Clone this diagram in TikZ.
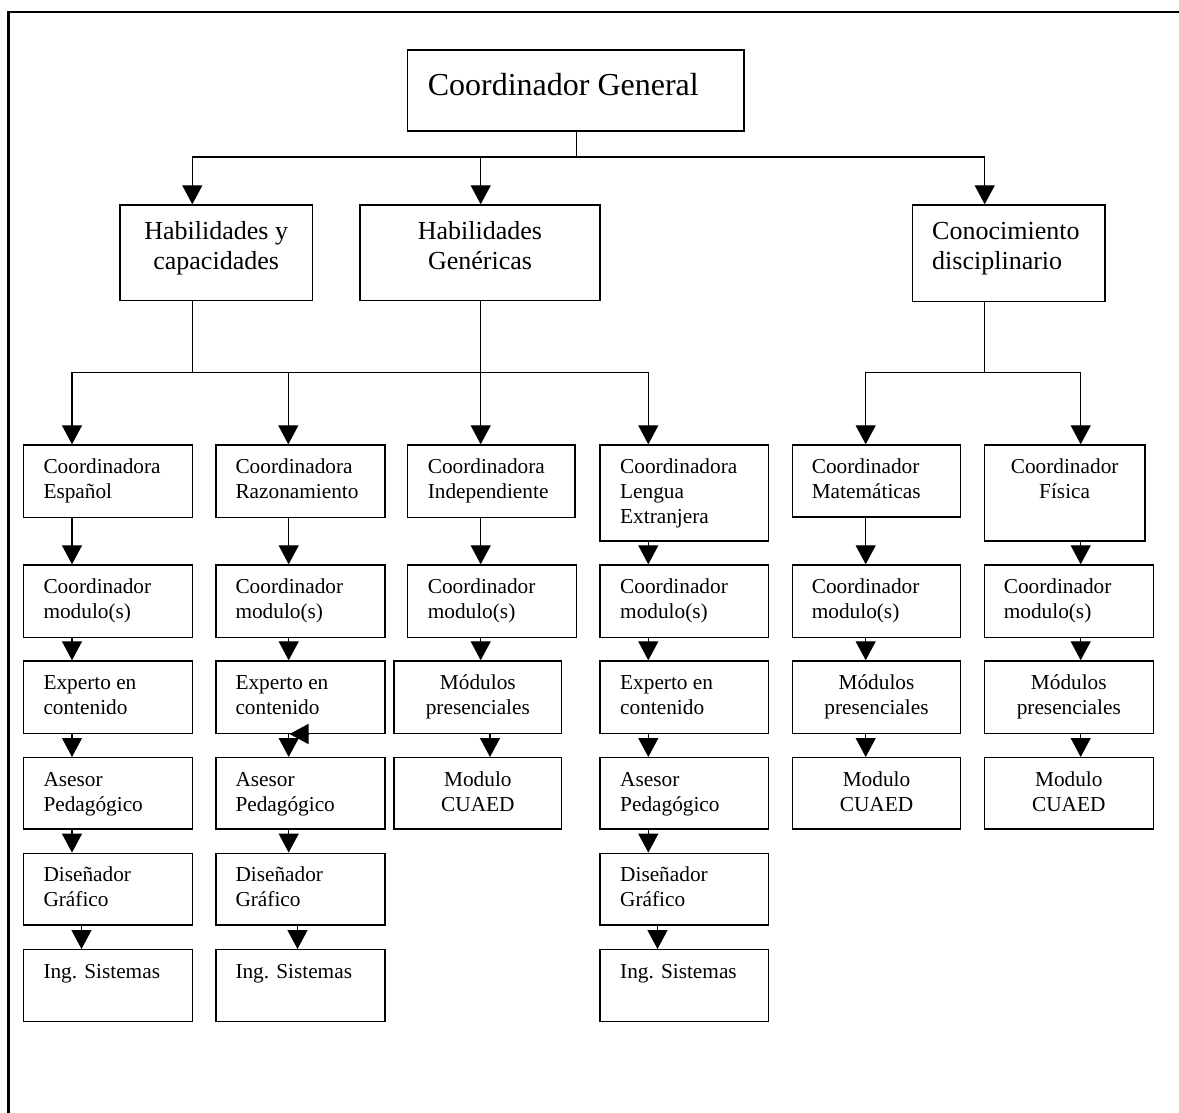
\documentclass[tikz,border=0pt]{standalone}
\usepackage{fontspec}
\setmainfont{Liberation Serif}
\usetikzlibrary{arrows.meta,calc}

\tikzset{
  orgbox/.style={draw, rectangle, line width=1.4pt, inner sep=0pt},
  lbl/.style={inner sep=0pt, font=\fontsize{21.3}{24.7}\selectfont},
  midlbl/.style={inner sep=0pt, font=\fontsize{26}{30}\selectfont},
  toplbl/.style={inner sep=0pt, font=\fontsize{32}{37}\selectfont},
  wire/.style={line width=1.3pt},
  arr/.style={line width=1.3pt, -{Triangle[length=19pt,width=20pt]}},
  frame/.style={line width=2.2pt},
}

% box: name, left, top, right, bottom
\newcommand\orgrect[5]{%
  \node[orgbox, minimum width={#4-#2}, minimum height={#5-#3}] (#1)
    at ({(#2+#4)/2},{(#3+#5)/2}) {};}
% left-aligned text: name, box, x inset, first baseline, lines, style
\newcommand\ltext[6]{%
  \node[#6, anchor=base west] (#1) at ($(#2.north west)+(#3,#4)$)
    {\begin{tabular}[t]{@{}l@{}}#5\end{tabular}};}
% centred text: name, box, first baseline, lines, style
\newcommand\ctext[5]{%
  \node[#5, anchor=base] (#1) at ($(#2.north)+(0,#3)$)
    {\begin{tabular}[t]{@{}c@{}}#4\end{tabular}};}
% vertical arrow between two stacked boxes at a given x
\newcommand\chain[3]{\draw[arr] (#3,0 |- #1.south) -- (#3,0 |- #2.north);}

\begin{document}
\begin{tikzpicture}[x=1pt,y=-1pt]
\useasboundingbox (0,0) rectangle (1179,1113);

% page frame (left and top edges)
\draw[frame] (8.5,1113) -- (8.5,12) -- (1179,12);

% ---- top level ----
\orgrect{cg}{407.7}{50}{744}{131}
\ltext{cgt}{cg}{20.6}{46.7}{Coordinador General}{toplbl}

% ---- second level ----
\orgrect{hc}{120}{205}{312.3}{300.7}
\ctext{hct}{hc}{35.7}{Habilidades y\\capacidades}{midlbl}
\orgrect{hg}{360}{205}{600}{300.7}
\ctext{hgt}{hg}{35.3}{Habilidades\\Genéricas}{midlbl}
\orgrect{cd}{912.3}{205}{1105}{301.3}
\ltext{cdt}{cd}{20.4}{35.3}{Conocimiento\\disciplinario}{midlbl}

% ---- column A: Español ----
\orgrect{a1}{23.3}{445}{192.7}{517.7}
\orgrect{a2}{23.3}{565}{192.7}{637.7}
\orgrect{a3}{23.3}{661}{192.7}{733.3}
\orgrect{a4}{23.3}{757.7}{192.7}{829}
\orgrect{a5}{23.3}{853.3}{192.7}{925}
\orgrect{a6}{23.3}{949.7}{192.7}{1021.7}
\ltext{a1t}{a1}{20.7}{29.3}{Coordinadora\\Español}{lbl}
\ltext{a2t}{a2}{20.7}{29.3}{Coordinador\\modulo(s)}{lbl}
\ltext{a3t}{a3}{20.7}{29.3}{Experto en\\contenido}{lbl}
\ltext{a4t}{a4}{20.7}{29.3}{Asesor\\Pedagógico}{lbl}
\ltext{a5t}{a5}{20.7}{29.3}{Diseñador\\Gráfico}{lbl}
\ltext{a6t}{a6}{20.7}{29.3}{Ing. Sistemas}{lbl}

% ---- column B: Razonamiento ----
\orgrect{b1}{216}{445}{385}{517.7}
\orgrect{b2}{216}{565}{385}{637.7}
\orgrect{b3}{216}{661}{385}{733.3}
\orgrect{b4}{216}{757.7}{385}{829}
\orgrect{b5}{216}{853.3}{385}{925}
\orgrect{b6}{216}{949.7}{385}{1021.7}
\ltext{b1t}{b1}{20}{29.3}{Coordinadora\\Razonamiento}{lbl}
\ltext{b2t}{b2}{20}{29.3}{Coordinador\\modulo(s)}{lbl}
\ltext{b3t}{b3}{20}{29.3}{Experto en\\contenido}{lbl}
\ltext{b4t}{b4}{20}{29.3}{Asesor\\Pedagógico}{lbl}
\ltext{b5t}{b5}{20}{29.3}{Diseñador\\Gráfico}{lbl}
\ltext{b6t}{b6}{20}{29.3}{Ing. Sistemas}{lbl}

% ---- column C: Independiente ----
\orgrect{c1}{407.7}{445}{575}{517.7}
\orgrect{c2}{407.7}{565}{576.7}{637.7}
\orgrect{c3}{394}{661}{561.7}{733.3}
\orgrect{c4}{394}{757.7}{561.7}{829}
\ltext{c1t}{c1}{20.6}{29.3}{Coordinadora\\Independiente}{lbl}
\ltext{c2t}{c2}{20.6}{29.3}{Coordinador\\modulo(s)}{lbl}
\ctext{c3t}{c3}{29.3}{Módulos\\presenciales}{lbl}
\ctext{c4t}{c4}{29.3}{Modulo\\CUAED}{lbl}

% ---- column D: Lengua Extranjera ----
\orgrect{d1}{600}{445}{768.5}{541}
\orgrect{d2}{600}{565}{768.5}{637.7}
\orgrect{d3}{600}{661}{768.5}{733.3}
\orgrect{d4}{600}{757.7}{768.5}{829}
\orgrect{d5}{600}{853.3}{768.5}{925}
\orgrect{d6}{600}{949.7}{768.5}{1021.7}
\ltext{d1t}{d1}{20.7}{29.3}{Coordinadora\\Lengua\\Extranjera}{lbl}
\ltext{d2t}{d2}{20.7}{29.3}{Coordinador\\modulo(s)}{lbl}
\ltext{d3t}{d3}{20.7}{29.3}{Experto en\\contenido}{lbl}
\ltext{d4t}{d4}{20.7}{29.3}{Asesor\\Pedagógico}{lbl}
\ltext{d5t}{d5}{20.7}{29.3}{Diseñador\\Gráfico}{lbl}
\ltext{d6t}{d6}{20.7}{29.3}{Ing. Sistemas}{lbl}

% ---- column E: Matemáticas ----
\orgrect{e1}{792.3}{445}{960.7}{517}
\orgrect{e2}{792.3}{565}{960.7}{637.7}
\orgrect{e3}{792.3}{661}{960.7}{733.3}
\orgrect{e4}{792.3}{757.7}{960.7}{829}
\ltext{e1t}{e1}{20}{29.3}{Coordinador\\Matemáticas}{lbl}
\ltext{e2t}{e2}{20}{29.3}{Coordinador\\modulo(s)}{lbl}
\ctext{e3t}{e3}{29.3}{Módulos\\presenciales}{lbl}
\ctext{e4t}{e4}{29.3}{Modulo\\CUAED}{lbl}

% ---- column F: Física ----
\orgrect{f1}{984.3}{445}{1145}{541}
\orgrect{f2}{984.3}{565}{1153.3}{637.7}
\orgrect{f3}{984.3}{661}{1153.3}{733.3}
\orgrect{f4}{984.3}{757.7}{1153.3}{829}
\ctext{f1t}{f1}{29.3}{Coordinador\\Física}{lbl}
\ltext{f2t}{f2}{20}{29.3}{Coordinador\\modulo(s)}{lbl}
\ctext{f3t}{f3}{29.3}{Módulos\\presenciales}{lbl}
\ctext{f4t}{f4}{29.3}{Modulo\\CUAED}{lbl}

% ---- connectors: top level to second level ----
\coordinate (j0) at (576.3,157);
\draw[wire] (576.3,0 |- cg.south) -- (j0);
\draw[arr] (j0) -| (192.3,0 |- hc.north);
\draw[arr] (j0) -| (480.7,0 |- hg.north);
\draw[arr] (j0) -| (984.7,0 |- cd.north);

% ---- connectors: second level to column heads ----
\coordinate (j1) at (192.3,372.7);
\coordinate (j2) at (480.7,372.7);
\coordinate (j3) at (984.3,372.7);
\draw[wire] (192.3,0 |- hc.south) -- (j1);
\draw[wire] (480.7,0 |- hg.south) -- (j2);
\draw[wire] (984.3,0 |- cd.south) -- (j3);
\draw[wire] (j1) -- (j2);
\draw[arr] (j1) -| (72,0 |- a1.north);
\draw[arr] (j1) -| (288.3,0 |- b1.north);
\draw[arr] (j2) -- (480.7,0 |- c1.north);
\draw[arr] (j2) -| (648.3,0 |- d1.north);
\draw[arr] (j3) -| (865.7,0 |- e1.north);
\draw[arr] (j3) -| (1080.7,0 |- f1.north);

% ---- connectors down each column ----
\chain{a1}{a2}{72}   \chain{a2}{a3}{72}   \chain{a3}{a4}{72}
\chain{a4}{a5}{72}   \chain{a5}{a6}{81.5}
\chain{b1}{b2}{288.7} \chain{b2}{b3}{288.7} \chain{b3}{b4}{288.7}
\chain{b4}{b5}{288.7} \chain{b5}{b6}{297.5}
\chain{c1}{c2}{480.7} \chain{c2}{c3}{480.7} \chain{c3}{c4}{490}
\chain{d1}{d2}{648.3} \chain{d2}{d3}{648.3} \chain{d3}{d4}{648.3}
\chain{d4}{d5}{648.3} \chain{d5}{d6}{657.5}
\chain{e1}{e2}{865.7} \chain{e2}{e3}{865.7} \chain{e3}{e4}{865.7}
\chain{f1}{f2}{1080.7} \chain{f2}{f3}{1080.7} \chain{f3}{f4}{1080.7}

% short left-pointing arrow at the foot of b3
\draw[arr] (309.3,0 |- b3.south) -- (289.5,0 |- b3.south);
\end{tikzpicture}
\end{document}
